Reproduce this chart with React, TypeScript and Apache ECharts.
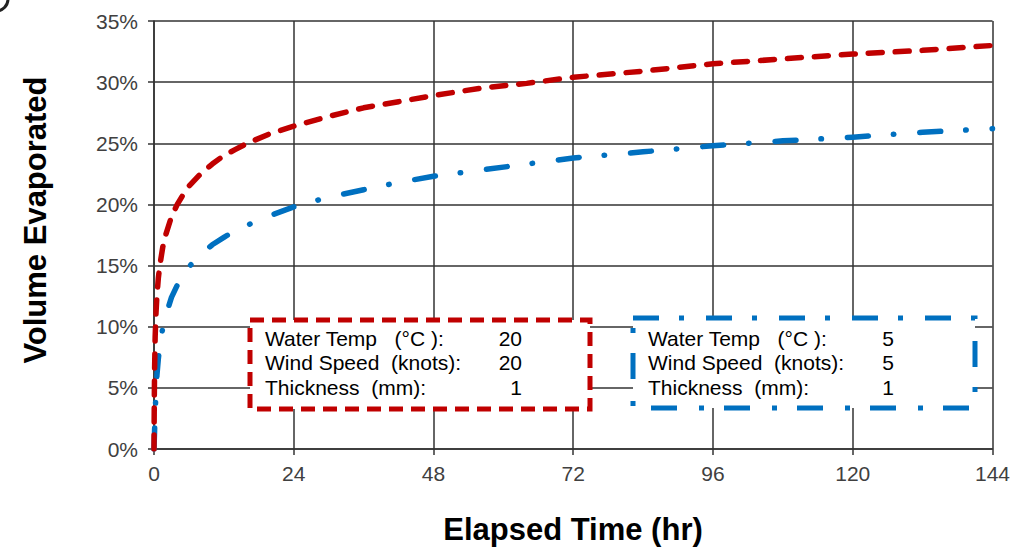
import React, { useEffect, useRef } from "react";
import * as echarts from "echarts";

const redTime = [0, 0.05, 0.1, 0.2, 0.35, 0.5, 0.75, 1, 1.5, 2, 3, 4, 5, 6, 8, 10, 12, 14, 16, 20, 24, 30, 36, 42, 48, 56, 64, 72, 84, 96, 108, 120, 132, 144];
const redVolume = [0, 4, 6.5, 9.2, 11.2, 12.5, 14, 15, 16.5, 17.5, 19, 20, 20.8, 21.5, 22.5, 23.3, 24, 24.5, 25, 25.8, 26.4, 27.2, 27.9, 28.4, 28.9, 29.5, 29.9, 30.4, 30.9, 31.5, 31.9, 32.3, 32.6, 33.0];

const blueTime = [0, 0.1, 0.2, 0.35, 0.5, 0.75, 1, 1.5, 2, 3, 4, 5, 6, 8, 10, 12, 14, 16, 20, 24, 30, 36, 42, 48, 56, 64, 72, 84, 96, 108, 120, 132, 144];
const blueVolume = [0, 1.5, 3, 4.8, 6, 7.4, 8.4, 9.9, 10.9, 12.4, 13.4, 14.2, 14.9, 15.9, 16.7, 17.3, 17.9, 18.3, 19.1, 19.8, 20.6, 21.2, 21.8, 22.3, 22.8, 23.3, 23.8, 24.3, 24.8, 25.2, 25.5, 25.9, 26.2];

const xTicks = { min: 0, max: 144, interval: 24 };
const yTicks = { min: 0, max: 35, interval: 5 };

const xTitle = "Elapsed Time (hr)";
const yTitle = "Volume Evaporated";

const redLabels = ["Water Temp   (°C ):", "Wind Speed  (knots):", "Thickness  (mm):"];
const redValues = ["20", "20", "1"];
const blueLabels = ["Water Temp   (°C ):", "Wind Speed  (knots):", "Thickness  (mm):"];
const blueValues = ["5", "5", "1"];

const RED = "#c00000";
const BLUE = "#0070c0";
const FONT = "'Liberation Sans', Arial, sans-serif";

export default function App() {
  const ref = useRef<HTMLDivElement>(null);
  useEffect(() => {
    document.body.style.margin = "0";
    const chart = echarts.init(ref.current!, null, { renderer: "svg" });
    const rowY = [338, 362, 387];
    const boxText = (labels: string[], values: string[], lx: number, vx: number) => {
      const els: any[] = [];
      labels.forEach((t, i) => {
        els.push({
          type: "text",
          x: lx,
          y: rowY[i],
          z: 20,
          style: { text: t, font: `21px ${FONT}`, fill: "#000", textVerticalAlign: "middle", textAlign: "left" },
        });
        els.push({
          type: "text",
          x: vx,
          y: rowY[i],
          z: 20,
          style: { text: values[i], font: `21px ${FONT}`, fill: "#000", textVerticalAlign: "middle", textAlign: "right" },
        });
      });
      return els;
    };
    chart.setOption({
      animation: false,
      backgroundColor: "#fff",
      grid: { left: 154, right: 19, top: 21, bottom: 99, containLabel: false },
      xAxis: {
        type: "value",
        min: xTicks.min,
        max: xTicks.max,
        interval: xTicks.interval,
        axisLine: { show: true, onZero: false, lineStyle: { color: "#333", width: 1.5 } },
        axisTick: { show: true, length: 6, lineStyle: { color: "#333", width: 1.5 } },
        axisLabel: { fontFamily: FONT, fontSize: 21, color: "#404040", margin: 14 },
        splitLine: { show: true, lineStyle: { color: "#333", width: 1.5 } },
      },
      yAxis: {
        type: "value",
        min: yTicks.min,
        max: yTicks.max,
        interval: yTicks.interval,
        axisLine: { show: true, lineStyle: { color: "#333", width: 1.5 } },
        axisTick: { show: true, length: 6, lineStyle: { color: "#333", width: 1.5 } },
        axisLabel: { fontFamily: FONT, fontSize: 21, color: "#404040", margin: 16, formatter: "{value}%" },
        splitLine: { show: true, lineStyle: { color: "#333", width: 1.5 } },
      },
      series: [
        {
          type: "line",
          data: redTime.map((t, i) => [t, redVolume[i]]),
          smooth: false,
          showSymbol: false,
          z: 5,
          lineStyle: { color: RED, width: 5.5, type: [14, 13], cap: "round", join: "round" },
        },
        {
          type: "line",
          data: blueTime.map((t, i) => [t, blueVolume[i]]),
          smooth: false,
          showSymbol: false,
          z: 4,
          lineStyle: { color: BLUE, width: 5.5, type: [21, 25, 0.5, 26], cap: "round", join: "round" },
        },
      ],
      graphic: [
        {
          type: "arc",
          shape: { cx: -4, cy: -1, r: 12, startAngle: 0, endAngle: Math.PI / 2 },
          style: { stroke: "#222", lineWidth: 3, fill: "none" },
        },
        {
          type: "text",
          x: 573,
          y: 529,
          style: { text: xTitle, font: `bold 31px ${FONT}`, fill: "#000", textAlign: "center", textVerticalAlign: "middle" },
        },
        {
          type: "text",
          x: 35,
          y: 220,
          rotation: Math.PI / 2,
          style: { text: yTitle, font: `bold 31px ${FONT}`, fill: "#000", textAlign: "center", textVerticalAlign: "middle" },
        },
        {
          type: "rect",
          z: 10,
          shape: { x: 250, y: 320, width: 340, height: 89 },
          style: { fill: "#fff", stroke: RED, lineWidth: 5, lineDash: [14, 8] },
        },
        {
          type: "rect",
          z: 10,
          shape: { x: 633, y: 318, width: 342, height: 90 },
          style: { fill: "#fff", stroke: BLUE, lineWidth: 5, lineDash: [26, 20, 5, 22] },
        },
        ...boxText(redLabels, redValues, 265, 522),
        ...boxText(blueLabels, blueValues, 648, 894),
      ],
    });
    return () => chart.dispose();
  }, []);
  return <div ref={ref} style={{ position: "fixed", left: 0, top: 0, width: 1013, height: 548 }} />;
}
